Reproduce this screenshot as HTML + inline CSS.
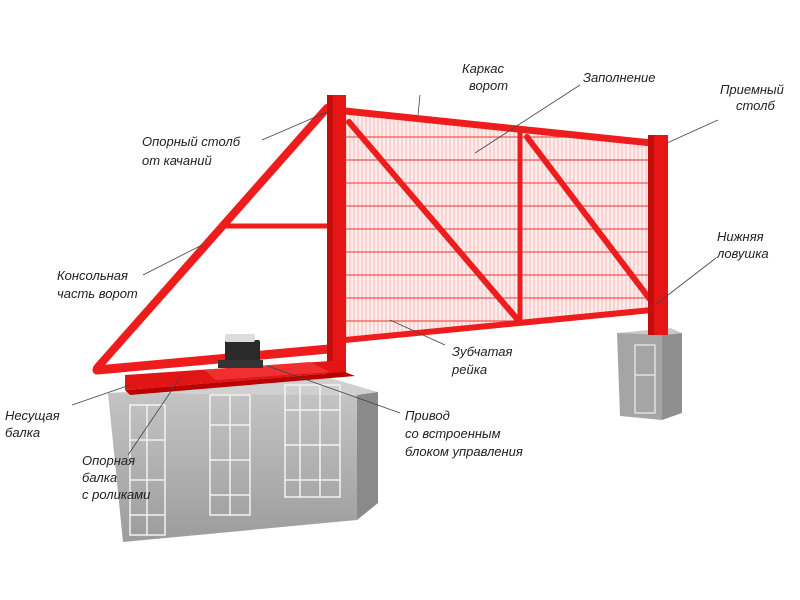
<!DOCTYPE html>
<html><head><meta charset="utf-8"><style>
html,body{margin:0;padding:0;background:#fff}
svg{display:block}
text{font-family:"Liberation Sans",sans-serif;font-style:italic;font-size:13px;fill:#222}
</style></head><body>
<svg width="800" height="600" viewBox="0 0 800 600" xmlns="http://www.w3.org/2000/svg">
<defs>
<pattern id="mesh" width="4" height="23" patternUnits="userSpaceOnUse">
<rect width="4" height="23" fill="#fdeeee"/>
<line x1="2" y1="0" x2="2" y2="23" stroke="#f8a8a8" stroke-width="0.8"/>
<line x1="0" y1="22" x2="4" y2="22" stroke="#f05050" stroke-width="1.2"/>
</pattern>
<linearGradient id="fg" x1="0" y1="0" x2="0" y2="1"><stop offset="0" stop-color="#c4c4c4"/><stop offset="1" stop-color="#9c9c9c"/></linearGradient>
</defs>
<!-- big foundation -->
<polygon points="108,393 330,378 378,392 357,395" fill="#d0d0d0"/>
<polygon points="108,393 357,395 357,520 123,542" fill="url(#fg)"/>
<polygon points="357,395 378,392 378,503 357,520" fill="#8a8a8a"/>
<g stroke="#f2f2f2" stroke-width="1.5" fill="none">
<rect x="130" y="405" width="35" height="130"/><line x1="147" y1="405" x2="147" y2="535"/>
<line x1="130" y1="440" x2="165" y2="440"/><line x1="130" y1="480" x2="165" y2="480"/><line x1="130" y1="515" x2="165" y2="515"/>
<rect x="210" y="395" width="40" height="120"/><line x1="230" y1="395" x2="230" y2="515"/>
<line x1="210" y1="425" x2="250" y2="425"/><line x1="210" y1="460" x2="250" y2="460"/><line x1="210" y1="495" x2="250" y2="495"/>
<rect x="285" y="385" width="55" height="112"/><line x1="300" y1="385" x2="300" y2="497"/><line x1="320" y1="385" x2="320" y2="497"/>
<line x1="285" y1="410" x2="340" y2="410"/><line x1="285" y1="445" x2="340" y2="445"/><line x1="285" y1="480" x2="340" y2="480"/>
</g>
<!-- right foundation -->
<polygon points="617,333 670,328 682,333 630,337" fill="#c9c9c9"/>
<polygon points="617,333 662,335 662,420 620,416" fill="#a5a5a5"/>
<polygon points="662,335 682,333 682,413 662,420" fill="#8f8f8f"/>
<g stroke="#eee" stroke-width="1.2" fill="none"><rect x="635" y="345" width="20" height="68"/><line x1="635" y1="375" x2="655" y2="375"/></g>
<!-- mesh -->
<polygon points="345,115 650,145 650,311 345,338" fill="url(#mesh)"/>
<!-- gate frame -->
<g stroke="#ee1c1c" stroke-linecap="round" fill="none">
<line x1="345" y1="111" x2="652" y2="143" stroke-width="7"/>
<line x1="345" y1="340" x2="652" y2="310" stroke-width="6"/>
<line x1="520" y1="132" x2="520" y2="322" stroke-width="5"/>
<line x1="349" y1="122" x2="518" y2="320" stroke-width="6"/>
<line x1="527" y1="137" x2="652" y2="302" stroke-width="6"/>
<line x1="327" y1="108" x2="97" y2="368" stroke-width="8"/>
<line x1="97" y1="370" x2="340" y2="348" stroke-width="9"/>
<line x1="227" y1="226" x2="330" y2="226" stroke-width="5"/>
</g>
<rect x="327" y="95" width="19" height="280" fill="#e81515"/>
<rect x="327" y="95" width="6" height="280" fill="#c40d0d"/>
<rect x="648" y="135" width="20" height="200" fill="#e81515"/>
<rect x="648" y="135" width="6" height="200" fill="#c40d0d"/>
<!-- beam -->
<polygon points="125,375 345,360 345,372 125,390" fill="#e21515"/>
<polygon points="125,390 345,372 355,376 130,395" fill="#b00"/>
<polygon points="205,370 310,362 330,372 215,380" fill="#f03030"/>
<!-- drive -->
<rect x="225" y="340" width="35" height="22" rx="2" fill="#2a2a2a"/>
<rect x="225" y="334" width="30" height="8" rx="2" fill="#ddd"/>
<rect x="218" y="360" width="45" height="8" fill="#333"/>
<!-- leader lines -->
<g stroke="#444" stroke-width="0.8">
<line x1="420" y1="95" x2="418" y2="115"/>
<line x1="580" y1="85" x2="475" y2="153"/>
<line x1="718" y1="120" x2="667" y2="143"/>
<line x1="262" y1="140" x2="327" y2="112"/>
<line x1="143" y1="275" x2="202" y2="245"/>
<line x1="716" y1="258" x2="655" y2="305"/>
<line x1="445" y1="345" x2="390" y2="320"/>
<line x1="72" y1="405" x2="130" y2="385"/>
<line x1="128" y1="455" x2="180" y2="378"/>
<line x1="400" y1="413" x2="268" y2="366"/>
</g>
<!-- labels -->
<text x="462" y="73">Каркас</text><text x="469" y="90">ворот</text>
<text x="583" y="82">Заполнение</text>
<text x="720" y="94">Приемный</text><text x="736" y="110">столб</text>
<text x="142" y="146">Опорный столб</text><text x="142" y="165">от качаний</text>
<text x="57" y="280">Консольная</text><text x="57" y="298">часть ворот</text>
<text x="717" y="241">Нижняя</text><text x="717" y="258">ловушка</text>
<text x="452" y="356">Зубчатая</text><text x="452" y="374">рейка</text>
<text x="5" y="420">Несущая</text><text x="5" y="437">балка</text>
<text x="82" y="465">Опорная</text><text x="82" y="482">балка</text><text x="82" y="499">с роликами</text>
<text x="405" y="420">Привод</text><text x="405" y="438">со встроенным</text><text x="405" y="456">блоком управления</text>
</svg>
</body></html>
